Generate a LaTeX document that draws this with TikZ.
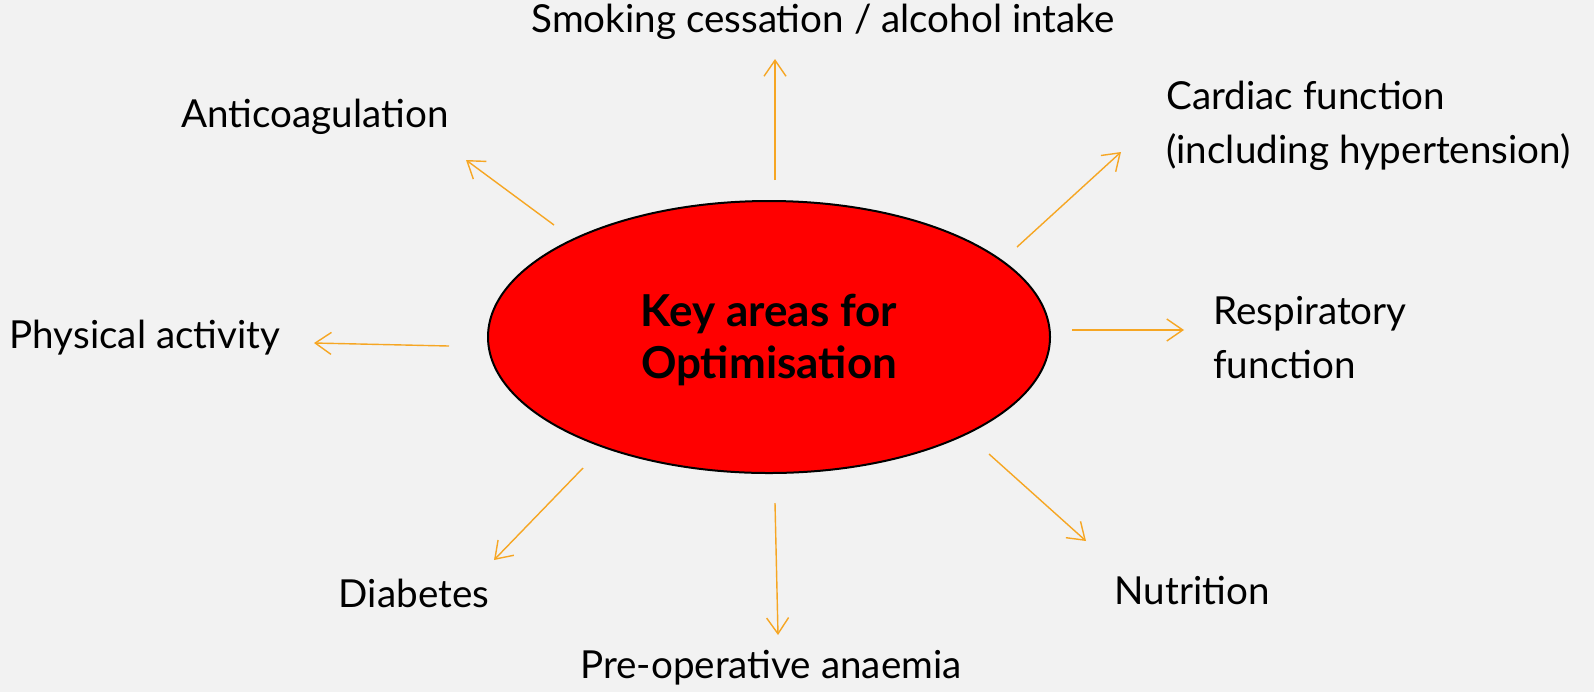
\documentclass[tikz,border=0pt]{standalone}
\usepackage{fontspec}
\setmainfont{Lato}
\usetikzlibrary{arrows.meta}

\definecolor{bgcol}{HTML}{F2F2F2}
\definecolor{arrcol}{HTML}{F6A623}

\begin{document}
\begin{tikzpicture}[x=0.5pt,y=-0.5pt,
    >={Straight Barb[length=8pt,width=11pt]},
    arr/.style={->,draw=arrcol,line width=0.7pt},
    lbl/.style={font=\fontsize{19.3}{27}\selectfont,inner sep=0pt,align=left}]
    \fill [bgcol] (0,0) rectangle (1594,692);
    \useasboundingbox (0,0) rectangle (1594,692);
    % centre
    \draw [fill=red,draw=black,line width=1pt] (769,337) ellipse [x radius=281,y radius=136];
    \node [font=\fontsize{22}{26}\selectfont\bfseries,align=center] (Key) at (769,340)
        {Key areas for\\Optimisation};
    % labels
    \node [lbl] (Smoking) at (823,22) {Smoking cessation / alcohol intake};
    \node [lbl] (Anticoag) at (315,117) {Anticoagulation};
    \node [lbl,anchor=west] (Cardiac) at (1166,126) {Cardiac function\\(including hypertension)};
    \node [lbl] (Physical) at (145,338) {Physical activity};
    \node [lbl,anchor=west] (Resp) at (1213,338) {Respiratory\\function};
    \node [lbl] (Diabetes) at (414,593) {Diabetes};
    \node [lbl] (Anaemia) at (771,668) {Pre-operative anaemia};
    \node [lbl] (Nutrition) at (1192,590) {Nutrition};
    % arrow ends
    \coordinate (s1) at (775,180);  \coordinate (e1) at (775,59);
    \coordinate (s2) at (554,225);  \coordinate (e2) at (466,160);
    \coordinate (s3) at (1017,247); \coordinate (e3) at (1121,152);
    \coordinate (s4) at (449,346);  \coordinate (e4) at (314,343);
    \coordinate (s5) at (1072,330); \coordinate (e5) at (1184,330);
    \coordinate (s6) at (583,468);  \coordinate (e6) at (494,560);
    \coordinate (s7) at (775,503);  \coordinate (e7) at (778,635);
    \coordinate (s8) at (989,454);  \coordinate (e8) at (1086,541);
    \foreach \i in {1,...,8}
        \draw [arr] (s\i) -- (e\i);
\end{tikzpicture}
\end{document}
